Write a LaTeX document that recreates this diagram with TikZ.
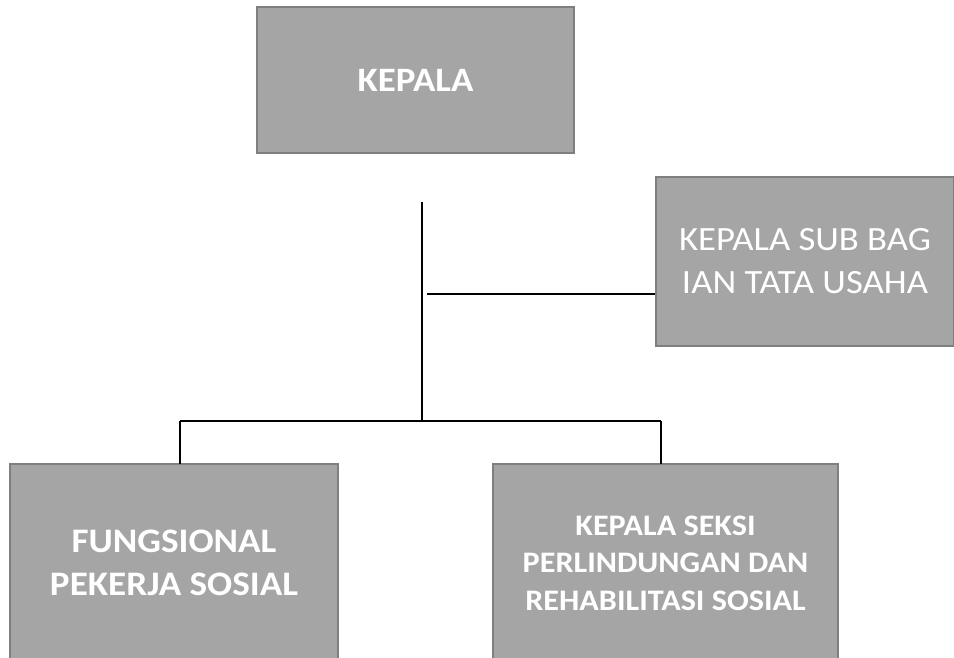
\documentclass[tikz,border=0pt]{standalone}
\usepackage{fontspec}
\setmainfont[FakeStretch=1.08]{Carlito}
\definecolor{boxfill}{HTML}{A5A5A5}
\definecolor{boxline}{HTML}{7F7F7F}
\begin{document}
\begin{tikzpicture}[x=1pt,y=-1pt,
  orgbox/.style={draw=boxline,line width=2pt,fill=boxfill,text=white,align=center,inner sep=0pt},
  conn/.style={draw=black,line width=1.3pt}]
\useasboundingbox (0,0) rectangle (954,657);
% boxes
\node[orgbox,minimum width=317pt,minimum height=146pt,font=\fontsize{34.2}{40}\selectfont\bfseries] (kepala) at (415.5,80) {KEPALA};
\node[orgbox,minimum width=298pt,minimum height=169pt,font=\fontsize{34}{43}\selectfont] (subbag) at (805,261) {KEPALA SUB BAG\\IAN TATA USAHA};
\node[orgbox,minimum width=328pt,minimum height=198pt,font=\fontsize{34.4}{42.5}\selectfont\bfseries] (fung) at (174,563) {FUNGSIONAL\\PEKERJA SOSIAL};
\node[orgbox,minimum width=345pt,minimum height=198pt,font=\fontsize{29.8}{37.5}\selectfont\bfseries] (seksi) at (665.5,563) {KEPALA SEKSI\\PERLINDUNGAN DAN\\REHABILITASI SOSIAL};
% connector points
\coordinate (top) at (422,202);
\coordinate (mid) at (422,421);
\coordinate (branch) at (427,294);
\draw[conn] (top) -- (mid);
\draw[conn] (branch) -- (subbag.west |- branch);
\draw[conn] (180,421) -- (661,421);
\draw[conn] (180,421) -- (180,464);
\draw[conn] (661,421) -- (661,464);
\end{tikzpicture}
\end{document}
